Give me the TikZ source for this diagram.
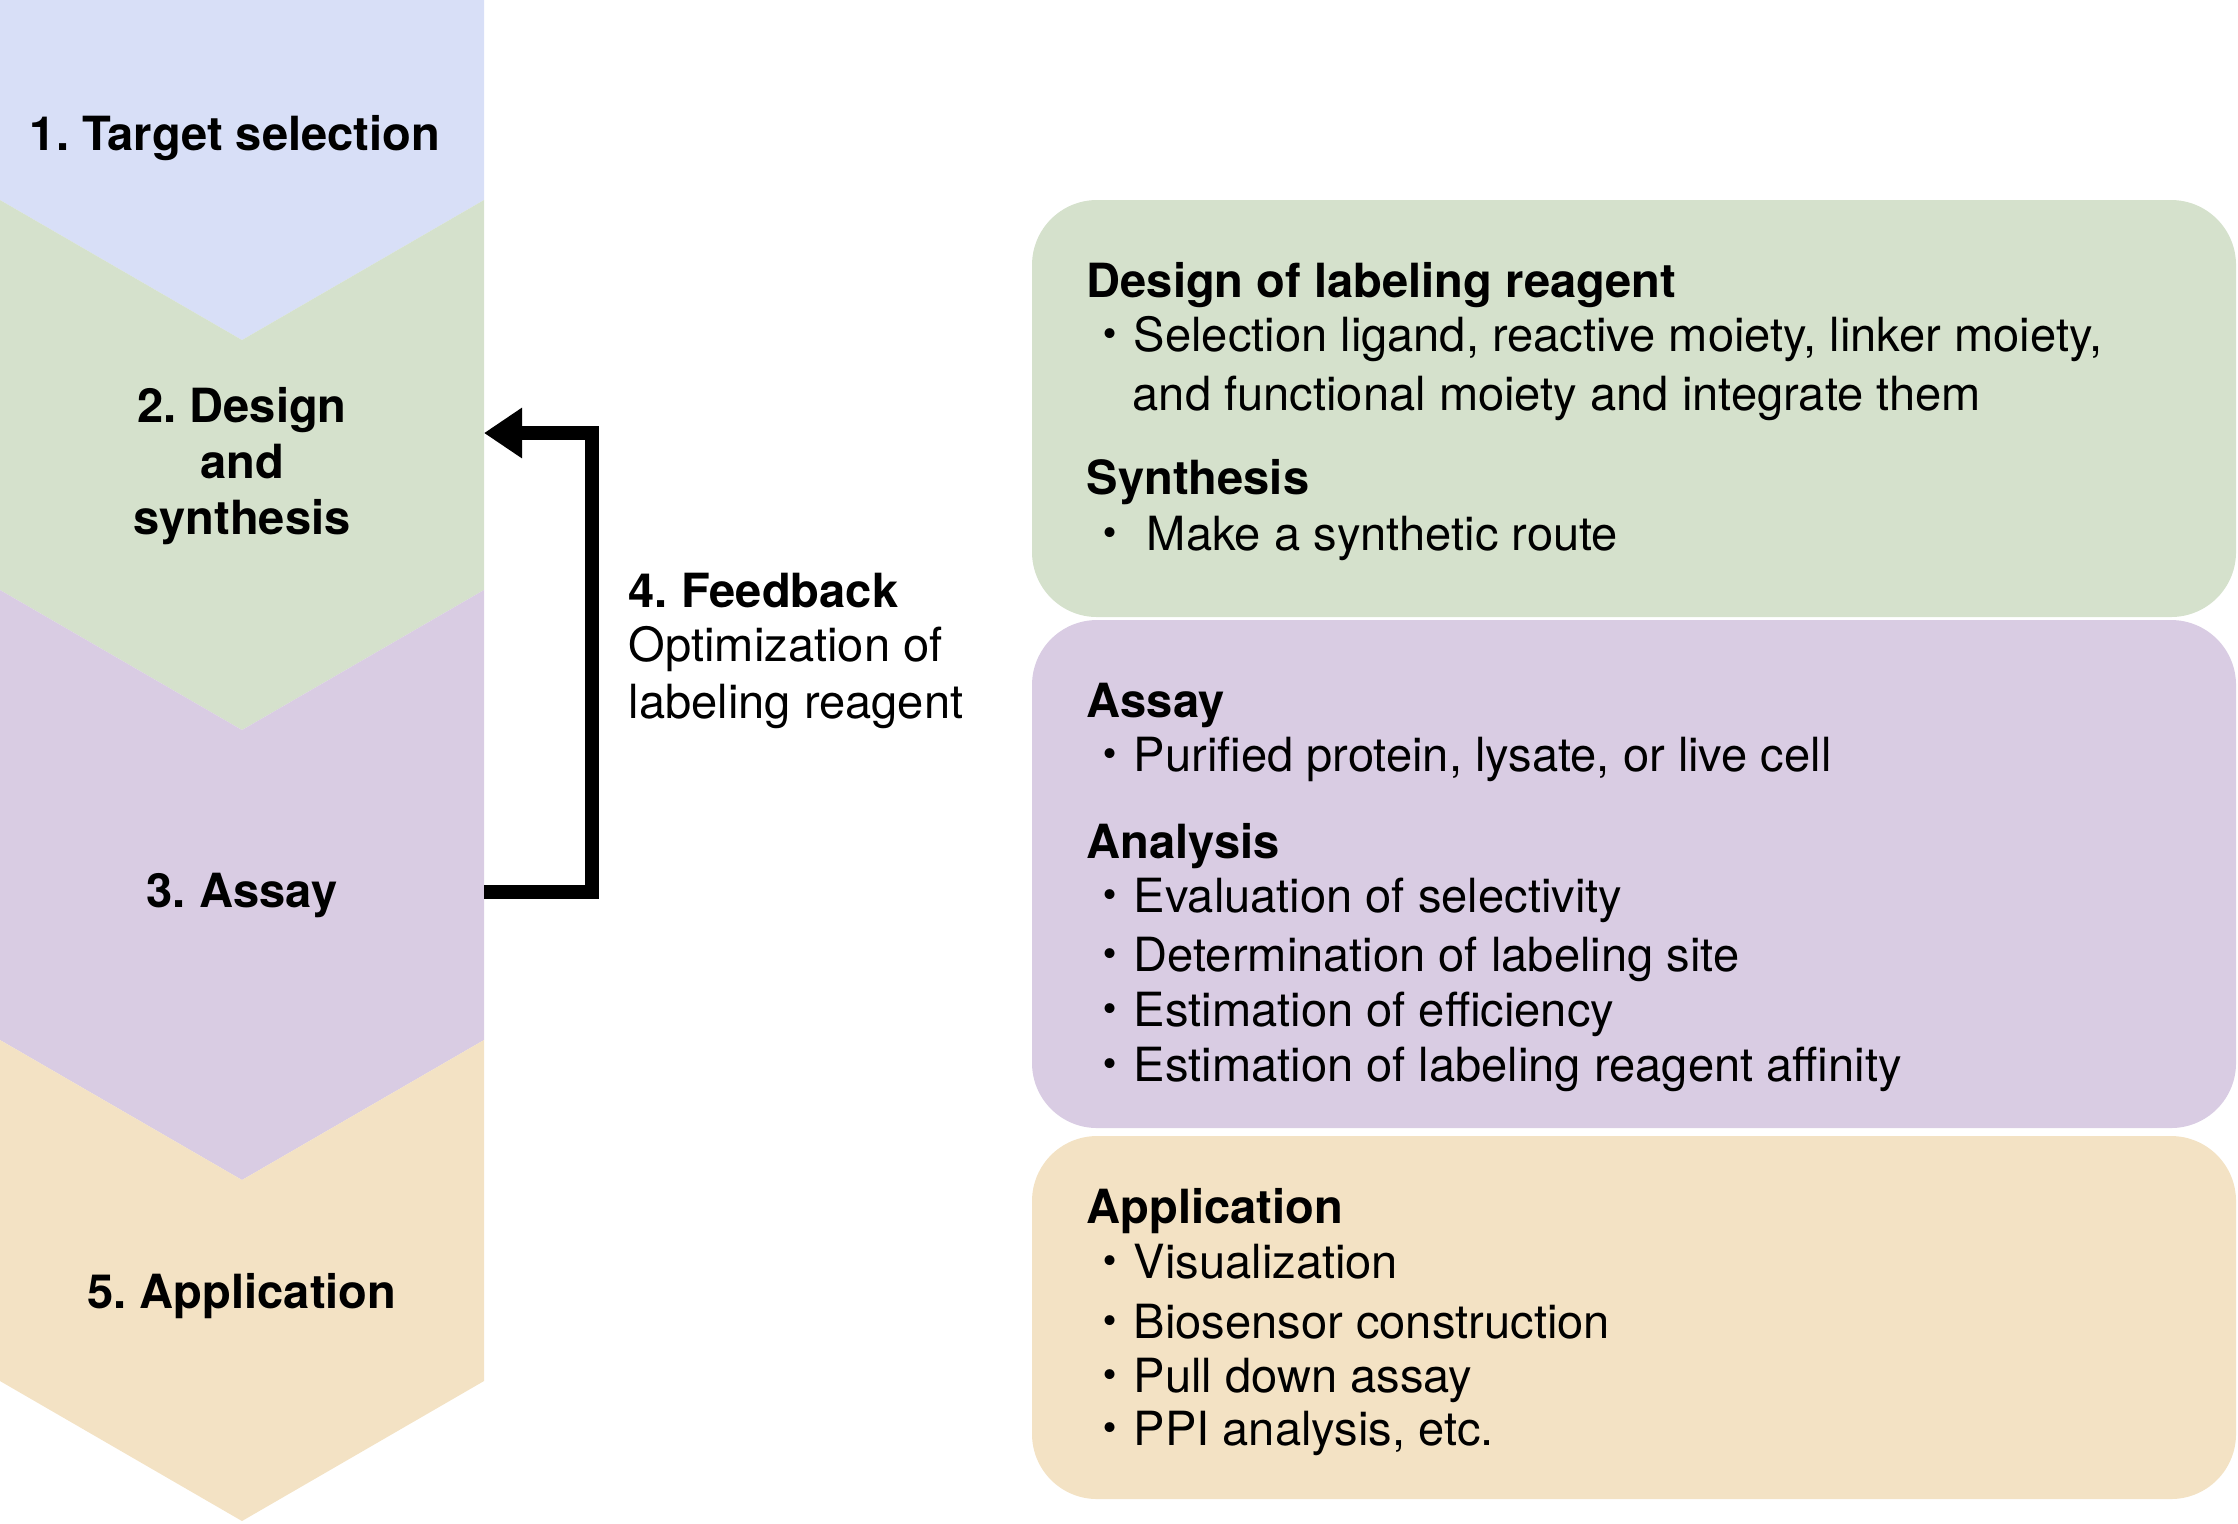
\documentclass[tikz,border=0pt]{standalone}
\usepackage{fontspec}
\setmainfont{TeX Gyre Heros}
\newfontfamily\cjk{Noto Sans CJK JP}
\usetikzlibrary{arrows.meta}

\definecolor{tgblue}{HTML}{D8DFF7}
\definecolor{tggreen}{HTML}{D5E1CC}
\definecolor{tgpurple}{HTML}{D9CCE3}
\definecolor{tgorange}{HTML}{F3E2C4}

\newcommand{\basefont}{\fontsize{13.4pt}{16pt}\selectfont\frenchspacing}
\newcommand{\dotitem}{{\cjk ・}}

\tikzset{
  stage/.style={font=\basefont\bfseries, align=center, inner sep=0pt},
  head/.style={font=\basefont\bfseries, anchor=base west, inner sep=0pt},
  txt/.style={font=\basefont, anchor=base west, inner sep=0pt},
  panel/.style={rounded corners=0.65cm},
}

\begin{document}
\begin{tikzpicture}
\useasboundingbox (0,0) rectangle (22.38,-15.23);

% chevron column
\fill[tgblue] (0,0) -- (4.84,0) -- (4.84,-2.00) -- (2.42,-3.40) -- (0,-2.00) -- cycle;
\fill[tggreen] (0,-2.00) -- (2.42,-3.40) -- (4.84,-2.00) -- (4.84,-5.90) -- (2.42,-7.30) -- (0,-5.90) -- cycle;
\fill[tgpurple] (0,-5.90) -- (2.42,-7.30) -- (4.84,-5.90) -- (4.84,-10.40) -- (2.42,-11.80) -- (0,-10.40) -- cycle;
\fill[tgorange] (0,-10.40) -- (2.42,-11.80) -- (4.84,-10.40) -- (4.84,-13.81) -- (2.42,-15.21) -- (0,-13.81) -- cycle;

\node[stage] (tsel) at (2.35,-1.38) {1. Target selection};
\node[stage] (dsyn) at (2.42,-4.66) {2. Design\\and\\synthesis};
\node[stage] (asy) at (2.42,-8.95) {3. Assay};
\node[stage] (app) at (2.42,-12.96) {5. Application};

% feedback loop
\coordinate (asR) at (4.84,-8.92);
\coordinate (dsR) at (4.84,-4.33);
\draw[line width=0.14cm, -{Triangle[length=0.38cm, width=0.48cm]}] (asR) -- ++(1.08,0) |- (dsR);

\node[head] (fb) at (6.28,-6.07) {4. Feedback};
\node[txt] (fb1) at (6.28,-6.61) {Optimization of};
\node[txt] (fb2) at (6.28,-7.18) {labeling reagent};

% panels
\fill[tggreen, panel] (10.32,-2.00) rectangle (22.36,-6.17);
\fill[tgpurple, panel] (10.32,-6.20) rectangle (22.36,-11.28);
\fill[tgorange, panel] (10.32,-11.36) rectangle (22.36,-14.99);

\node[head] (dh) at (10.86,-2.97) {Design of labeling reagent};
\node[txt] (d1) at (10.86,-3.51) {\dotitem Selection ligand, reactive moiety, linker moiety,};
\node[txt] (d2) at (11.32,-4.10) {and functional moiety and integrate them};
\node[head] (sh) at (10.86,-4.94) {Synthesis};
\node[txt] (s1) at (10.86,-5.50) {\dotitem\ Make a synthetic route};

\node[head] (ah) at (10.86,-7.17) {Assay};
\node[txt] (a1) at (10.86,-7.71) {\dotitem Purified protein, lysate, or live cell};
\node[head] (nh) at (10.86,-8.58) {Analysis};
\node[txt] (n1) at (10.86,-9.12) {\dotitem Evaluation of selectivity};
\node[txt] (n2) at (10.86,-9.71) {\dotitem Determination of labeling site};
\node[txt] (n3) at (10.86,-10.26) {\dotitem Estimation of efficiency};
\node[txt] (n4) at (10.86,-10.81) {\dotitem Estimation of labeling reagent affinity};

\node[head] (ph) at (10.86,-12.23) {Application};
\node[txt] (p1) at (10.86,-12.78) {\dotitem Visualization};
\node[txt] (p2) at (10.86,-13.38) {\dotitem Biosensor construction};
\node[txt] (p3) at (10.86,-13.92) {\dotitem Pull down assay};
\node[txt] (p4) at (10.86,-14.45) {\dotitem PPI analysis, etc.};

\end{tikzpicture}
\end{document}
